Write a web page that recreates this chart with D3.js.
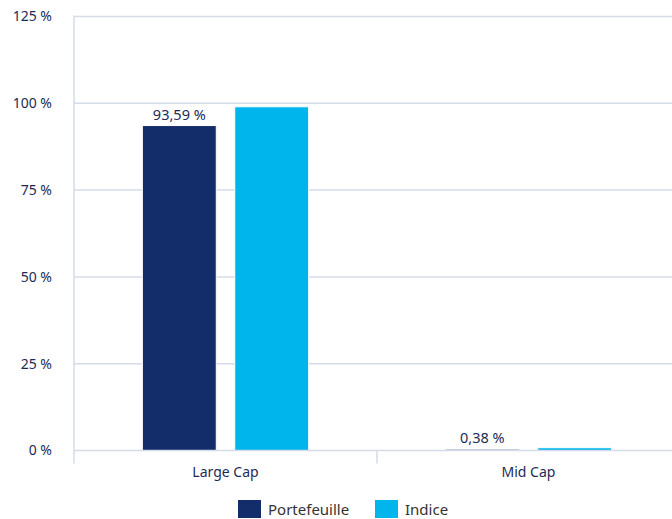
<!DOCTYPE html>
<html>
<head>
<meta charset="utf-8">
<script src="https://cdn.jsdelivr.net/npm/d3@7"></script>
<style>
  html, body { margin: 0; padding: 0; background: #fff; }
  svg { display: block; font-family: "Noto Sans", "Open Sans", sans-serif; }
</style>
</head>
<body>
<svg id="chart" width="672" height="519"></svg>
<script>
// Market-cap breakdown: portfolio vs. index
const categories = ["Large Cap", "Mid Cap"];
const seriesNames = ["Portefeuille", "Indice"];
const portefeuille = [93.59, 0.38];
const indice = [99.0, 0.8];
const yTicks = [0, 25, 50, 75, 100, 125];
const valueLabels = ["93,59 %", "0,38 %"]; // shown on the Portefeuille series

const colors = { Portefeuille: "#122d69", Indice: "#00b5ec" };
const textColor = "#1c2b55";
const gridColor = "#d3dce8";

const svg = d3.select("#chart");
const margin = { left: 74, right: -8, top: 17, bottom: 68 };
const W = 672, H = 519;

const x = d3.scaleBand().domain(categories)
  .range([margin.left, W - margin.right]).paddingInner(0).paddingOuter(0);
const xs = d3.scaleBand().domain(seriesNames)
  .range([0, x.bandwidth()]).paddingInner(0.2).paddingOuter(0.74);
const y = d3.scaleLinear().domain([0, 125]).range([H - margin.bottom - 0.5, margin.top - 0.5]);

// horizontal gridlines (zero line drawn later, above the bars)
svg.append("g").selectAll("line").data(yTicks.filter(d => d !== 0)).join("line")
  .attr("x1", margin.left).attr("x2", W)
  .attr("y1", d => y(d)).attr("y2", d => y(d))
  .attr("stroke", gridColor).attr("stroke-width", 1.5);

// y axis labels
const yAxis = d3.axisLeft(y).tickValues(yTicks).tickSize(0).tickPadding(22)
  .tickFormat(d => d + " %");
const gy = svg.append("g").attr("transform", `translate(${margin.left},0)`).call(yAxis);
gy.select(".domain").remove();
gy.selectAll("text").attr("fill", textColor).attr("font-size", 14)
  .attr("font-family", "Noto Sans, Open Sans, sans-serif");

// category axis
const xAxis = d3.axisBottom(x).tickSize(0).tickPadding(17);
const gx = svg.append("g").attr("transform", `translate(0,${y(0)})`).call(xAxis);
gx.select(".domain").remove();
gx.selectAll("text").attr("fill", textColor).attr("font-size", 14)
  .attr("font-family", "Noto Sans, Open Sans, sans-serif");

// bars, with a thin white outline
const rows = categories.map((c, i) => ({ cat: c, Portefeuille: portefeuille[i], Indice: indice[i] }));
const groups = svg.append("g").selectAll("g").data(rows).join("g")
  .attr("transform", d => `translate(${x(d.cat)},0)`);
groups.selectAll("rect").data(d => seriesNames.map(s => ({ s, v: d[s] }))).join("rect")
  .attr("x", d => xs(d.s)).attr("width", xs.bandwidth())
  .attr("y", d => y(d.v)).attr("height", d => y(0) - y(d.v))
  .attr("fill", d => colors[d.s])
  .attr("stroke", "#fff").attr("stroke-width", 1);

// value labels for the portfolio
groups.append("text")
  .attr("x", xs("Portefeuille") + xs.bandwidth() / 2)
  .attr("y", (d, i) => y(portefeuille[i]) - 6)
  .attr("text-anchor", "middle").attr("font-size", 14.5).attr("fill", textColor)
  .text((d, i) => valueLabels[i]);

// zero baseline
svg.append("line")
  .attr("x1", margin.left).attr("x2", W)
  .attr("y1", y(0)).attr("y2", y(0))
  .attr("stroke", gridColor).attr("stroke-width", 1.5);

// left axis line
svg.append("line")
  .attr("x1", margin.left).attr("x2", margin.left)
  .attr("y1", y(125) - 1).attr("y2", y(0) + 13)
  .attr("stroke", gridColor).attr("stroke-width", 1.5);

// category separator ticks
svg.append("g").selectAll("line").data(categories.slice(1)).join("line")
  .attr("x1", d => x(d)).attr("x2", d => x(d))
  .attr("y1", y(0)).attr("y2", y(0) + 13)
  .attr("stroke", gridColor).attr("stroke-width", 1.5);

// legend
const legendItems = [
  { name: "Portefeuille", x: 238 },
  { name: "Indice", x: 375 }
];
const lg = svg.append("g").selectAll("g").data(legendItems).join("g")
  .attr("transform", d => `translate(${d.x},500)`);
lg.append("rect").attr("width", 23).attr("height", 18).attr("fill", d => colors[d.name]);
lg.append("text").attr("x", 30).attr("y", 14.5).attr("font-size", 15)
  .attr("fill", "#333").text(d => d.name);
</script>
</body>
</html>
